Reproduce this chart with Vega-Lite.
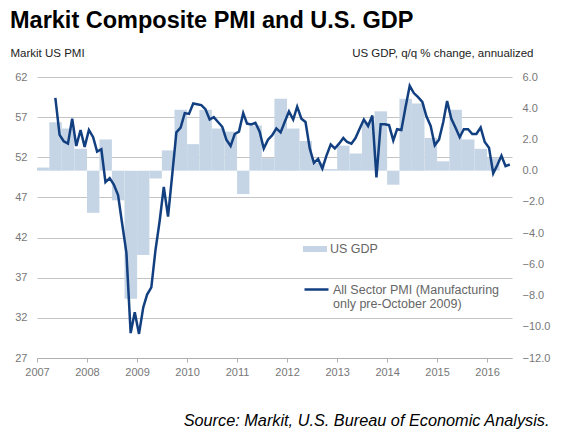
{
  "$schema": "https://vega.github.io/schema/vega-lite/v6.json",
  "width": 475,
  "height": 281,
  "autosize": {"type": "none"},
  "padding": {"left": 37, "top": 77, "right": 49, "bottom": 82},
  "background": "white",
  "title": {
    "text": "Markit Composite PMI and U.S. GDP",
    "anchor": "start",
    "frame": "group",
    "font": "Liberation Sans",
    "fontSize": 23.5,
    "fontWeight": "bold",
    "color": "#000000",
    "baseline": "alphabetic",
    "offset": -4,
    "dx": -27
  },
  "config": {
    "view": {"stroke": null},
    "font": "Liberation Sans",
    "axis": {"labelFont": "Liberation Sans", "titleFont": "Liberation Sans"},
    "legend": {"labelFont": "Liberation Sans"}
  },
  "datasets": {
    "gdp": [
      {"start": "2007-01-01", "end": "2007-04-01", "gdp": 0.2},
      {"start": "2007-04-01", "end": "2007-07-01", "gdp": 3.1},
      {"start": "2007-07-01", "end": "2007-10-01", "gdp": 2.7},
      {"start": "2007-10-01", "end": "2008-01-01", "gdp": 1.4},
      {"start": "2008-01-01", "end": "2008-04-01", "gdp": -2.7},
      {"start": "2008-04-01", "end": "2008-07-01", "gdp": 2.0},
      {"start": "2008-07-01", "end": "2008-10-01", "gdp": -1.9},
      {"start": "2008-10-01", "end": "2009-01-01", "gdp": -8.2},
      {"start": "2009-01-01", "end": "2009-04-01", "gdp": -5.4},
      {"start": "2009-04-01", "end": "2009-07-01", "gdp": -0.5},
      {"start": "2009-07-01", "end": "2009-10-01", "gdp": 1.3},
      {"start": "2009-10-01", "end": "2010-01-01", "gdp": 3.9},
      {"start": "2010-01-01", "end": "2010-04-01", "gdp": 1.7},
      {"start": "2010-04-01", "end": "2010-07-01", "gdp": 3.9},
      {"start": "2010-07-01", "end": "2010-10-01", "gdp": 2.7},
      {"start": "2010-10-01", "end": "2011-01-01", "gdp": 2.5},
      {"start": "2011-01-01", "end": "2011-04-01", "gdp": -1.5},
      {"start": "2011-04-01", "end": "2011-07-01", "gdp": 2.9},
      {"start": "2011-07-01", "end": "2011-10-01", "gdp": 0.8},
      {"start": "2011-10-01", "end": "2012-01-01", "gdp": 4.6},
      {"start": "2012-01-01", "end": "2012-04-01", "gdp": 2.7},
      {"start": "2012-04-01", "end": "2012-07-01", "gdp": 1.9},
      {"start": "2012-07-01", "end": "2012-10-01", "gdp": 0.5},
      {"start": "2012-10-01", "end": "2013-01-01", "gdp": 0.1},
      {"start": "2013-01-01", "end": "2013-04-01", "gdp": 1.6},
      {"start": "2013-04-01", "end": "2013-07-01", "gdp": 1.1},
      {"start": "2013-07-01", "end": "2013-10-01", "gdp": 3.1},
      {"start": "2013-10-01", "end": "2014-01-01", "gdp": 3.8},
      {"start": "2014-01-01", "end": "2014-04-01", "gdp": -0.9},
      {"start": "2014-04-01", "end": "2014-07-01", "gdp": 4.6},
      {"start": "2014-07-01", "end": "2014-10-01", "gdp": 4.3},
      {"start": "2014-10-01", "end": "2015-01-01", "gdp": 2.1},
      {"start": "2015-01-01", "end": "2015-04-01", "gdp": 0.6},
      {"start": "2015-04-01", "end": "2015-07-01", "gdp": 3.9},
      {"start": "2015-07-01", "end": "2015-10-01", "gdp": 2.0},
      {"start": "2015-10-01", "end": "2016-01-01", "gdp": 1.4},
      {"start": "2016-01-01", "end": "2016-04-01", "gdp": 0.8}
    ],
    "pmi": [
      {"date": "2007-05-15", "pmi": 59.4}, {"date": "2007-06-15", "pmi": 54.8}, {"date": "2007-07-15", "pmi": 54.0}, {"date": "2007-08-15", "pmi": 53.7},
      {"date": "2007-09-15", "pmi": 56.8}, {"date": "2007-10-15", "pmi": 53.4}, {"date": "2007-11-15", "pmi": 55.4}, {"date": "2007-12-15", "pmi": 53.3},
      {"date": "2008-01-15", "pmi": 55.4}, {"date": "2008-02-15", "pmi": 54.5}, {"date": "2008-03-15", "pmi": 52.7}, {"date": "2008-04-15", "pmi": 53.0},
      {"date": "2008-05-15", "pmi": 48.9}, {"date": "2008-06-15", "pmi": 49.4}, {"date": "2008-07-15", "pmi": 48.6}, {"date": "2008-08-15", "pmi": 47.3},
      {"date": "2008-09-15", "pmi": 43.6}, {"date": "2008-10-15", "pmi": 40.1}, {"date": "2008-11-15", "pmi": 30.1}, {"date": "2008-12-15", "pmi": 32.7},
      {"date": "2009-01-15", "pmi": 30.0}, {"date": "2009-02-15", "pmi": 33.3}, {"date": "2009-03-15", "pmi": 34.9}, {"date": "2009-04-15", "pmi": 35.8},
      {"date": "2009-05-15", "pmi": 40.4}, {"date": "2009-06-15", "pmi": 44.1}, {"date": "2009-07-15", "pmi": 48.3}, {"date": "2009-08-15", "pmi": 44.6},
      {"date": "2009-09-15", "pmi": 49.9}, {"date": "2009-10-15", "pmi": 55.1}, {"date": "2009-11-15", "pmi": 55.7}, {"date": "2009-12-15", "pmi": 57.5},
      {"date": "2010-01-15", "pmi": 57.4}, {"date": "2010-02-15", "pmi": 58.7}, {"date": "2010-03-15", "pmi": 58.6}, {"date": "2010-04-15", "pmi": 58.5},
      {"date": "2010-05-15", "pmi": 58.0}, {"date": "2010-06-15", "pmi": 56.7}, {"date": "2010-07-15", "pmi": 57.0}, {"date": "2010-08-15", "pmi": 56.4},
      {"date": "2010-09-15", "pmi": 55.8}, {"date": "2010-10-15", "pmi": 54.2}, {"date": "2010-11-15", "pmi": 53.4}, {"date": "2010-12-15", "pmi": 54.9},
      {"date": "2011-01-15", "pmi": 55.2}, {"date": "2011-02-15", "pmi": 57.5}, {"date": "2011-03-15", "pmi": 56.2}, {"date": "2011-04-15", "pmi": 56.1},
      {"date": "2011-05-15", "pmi": 56.3}, {"date": "2011-06-15", "pmi": 55.2}, {"date": "2011-07-15", "pmi": 53.1}, {"date": "2011-08-15", "pmi": 54.2},
      {"date": "2011-09-15", "pmi": 54.75}, {"date": "2011-10-15", "pmi": 55.6}, {"date": "2011-11-15", "pmi": 55.1}, {"date": "2011-12-15", "pmi": 56.4},
      {"date": "2012-01-15", "pmi": 57.7}, {"date": "2012-02-15", "pmi": 56.7}, {"date": "2012-03-15", "pmi": 58.3}, {"date": "2012-04-15", "pmi": 56.8},
      {"date": "2012-05-15", "pmi": 56.4}, {"date": "2012-06-15", "pmi": 53.1}, {"date": "2012-07-15", "pmi": 51.3}, {"date": "2012-08-15", "pmi": 51.8},
      {"date": "2012-09-15", "pmi": 50.6}, {"date": "2012-10-15", "pmi": 52.2}, {"date": "2012-11-15", "pmi": 53.6}, {"date": "2012-12-15", "pmi": 53.1},
      {"date": "2013-01-15", "pmi": 53.7}, {"date": "2013-02-15", "pmi": 54.4}, {"date": "2013-03-15", "pmi": 53.9}, {"date": "2013-04-15", "pmi": 53.7},
      {"date": "2013-05-15", "pmi": 54.4}, {"date": "2013-06-15", "pmi": 55.6}, {"date": "2013-07-15", "pmi": 56.7}, {"date": "2013-08-15", "pmi": 55.9},
      {"date": "2013-09-15", "pmi": 57.2}, {"date": "2013-10-15", "pmi": 49.5}, {"date": "2013-11-15", "pmi": 56.1}, {"date": "2013-12-15", "pmi": 56.1},
      {"date": "2014-01-15", "pmi": 56.0}, {"date": "2014-02-15", "pmi": 54.1}, {"date": "2014-03-15", "pmi": 55.5}, {"date": "2014-04-15", "pmi": 55.4},
      {"date": "2014-05-15", "pmi": 58.2}, {"date": "2014-06-15", "pmi": 60.9}, {"date": "2014-07-15", "pmi": 60.0}, {"date": "2014-08-15", "pmi": 59.5},
      {"date": "2014-09-15", "pmi": 58.9}, {"date": "2014-10-15", "pmi": 57.1}, {"date": "2014-11-15", "pmi": 55.9}, {"date": "2014-12-15", "pmi": 53.5},
      {"date": "2015-01-15", "pmi": 54.2}, {"date": "2015-02-15", "pmi": 56.4}, {"date": "2015-03-15", "pmi": 59.0}, {"date": "2015-04-15", "pmi": 56.8},
      {"date": "2015-05-15", "pmi": 55.7}, {"date": "2015-06-15", "pmi": 54.5}, {"date": "2015-07-15", "pmi": 55.5}, {"date": "2015-08-15", "pmi": 55.5},
      {"date": "2015-09-15", "pmi": 54.9}, {"date": "2015-10-15", "pmi": 54.9}, {"date": "2015-11-15", "pmi": 55.7}, {"date": "2015-12-15", "pmi": 53.9},
      {"date": "2016-01-15", "pmi": 53.2}, {"date": "2016-02-15", "pmi": 50.0}, {"date": "2016-03-15", "pmi": 51.0}, {"date": "2016-04-15", "pmi": 52.2},
      {"date": "2016-05-15", "pmi": 50.9}, {"date": "2016-06-15", "pmi": 51.1}
    ]
  },
  "layer": [
    {
      "data": {"name": "gdp"},
      "mark": {"type": "bar"},
      "encoding": {
        "x": {
          "field": "start",
          "type": "temporal",
          "scale": {"type": "utc", "domain": [{"year": 2007, "month": 1, "date": 1, "utc": true}, {"year": 2016, "month": 7, "date": 1, "utc": true}]},
          "axis": {
            "orient": "bottom",
            "values": [
              {"year": 2007, "month": 1, "date": 1, "utc": true}, {"year": 2008, "month": 1, "date": 1, "utc": true},
              {"year": 2009, "month": 1, "date": 1, "utc": true}, {"year": 2010, "month": 1, "date": 1, "utc": true},
              {"year": 2011, "month": 1, "date": 1, "utc": true}, {"year": 2012, "month": 1, "date": 1, "utc": true},
              {"year": 2013, "month": 1, "date": 1, "utc": true}, {"year": 2014, "month": 1, "date": 1, "utc": true},
              {"year": 2015, "month": 1, "date": 1, "utc": true}, {"year": 2016, "month": 1, "date": 1, "utc": true}
            ],
            "format": "%Y",
            "formatType": "utc",
            "grid": false,
            "domain": true,
            "domainColor": "#b0b0b0",
            "ticks": true,
            "tickColor": "#b0b0b0",
            "tickSize": 4,
            "labelPadding": 4,
            "labelColor": "#777777",
            "labelFontSize": 11,
            "labelFlush": false,
            "labelOverlap": false,
            "title": "Source: Markit, U.S. Bureau of Economic Analysis.",
            "titleFontStyle": "italic",
            "titleFontWeight": "normal",
            "titleFontSize": 16.3,
            "titleColor": "#000000",
            "titleX": 512,
            "titleY": 67,
            "titleAlign": "right",
            "titleAnchor": null,
            "titleBaseline": "alphabetic"
          }
        },
        "x2": {"field": "end"},
        "y": {
          "field": "gdp",
          "type": "quantitative",
          "scale": {"domain": [-12, 6], "nice": false, "zero": false},
          "axis": {
            "orient": "right",
            "values": [-12, -10, -8, -6, -4, -2, 0, 2, 4, 6],
            "format": ".1f",
            "grid": false,
            "domain": false,
            "ticks": false,
            "labelPadding": 10,
            "labelColor": "#777777",
            "labelFontSize": 11,
            "title": "US GDP, q/q % change, annualized",
            "titleAngle": 0,
            "titleX": 21,
            "titleY": -21,
            "titleAlign": "right",
            "titleBaseline": "alphabetic",
            "titleFontWeight": "normal",
            "titleFontSize": 11.5,
            "titleColor": "#222222"
          }
        },
        "y2": {"datum": 0},
        "fill": {
          "datum": "US GDP",
          "scale": {"range": ["#c6d5e5"]},
          "legend": {
            "orient": "none",
            "legendX": 266,
            "legendY": 160,
            "title": null,
            "padding": 0,
            "symbolType": "M-1,-0.25H1V0.25H-1Z",
            "symbolSize": 576,
            "symbolStrokeWidth": 0,
            "labelOffset": 3,
            "labelFontSize": 12.5,
            "labelColor": "#666666"
          }
        }
      }
    },
    {
      "data": {"name": "pmi"},
      "mark": {"type": "line", "strokeWidth": 2.5},
      "encoding": {
        "x": {"field": "date", "type": "temporal"},
        "y": {
          "field": "pmi",
          "type": "quantitative",
          "scale": {"domain": [27, 62], "nice": false, "zero": false},
          "axis": {
            "orient": "left",
            "values": [27, 32, 37, 42, 47, 52, 57, 62],
            "grid": true,
            "gridColor": "#c4c4c4",
            "gridWidth": 1,
            "domain": false,
            "ticks": false,
            "labelPadding": 10,
            "labelColor": "#777777",
            "labelFontSize": 11,
            "title": "Markit US  PMI",
            "titleAngle": 0,
            "titleX": -27,
            "titleY": -21,
            "titleAlign": "left",
            "titleBaseline": "alphabetic",
            "titleFontWeight": "normal",
            "titleFontSize": 11.5,
            "titleColor": "#222222"
          }
        },
        "stroke": {
          "datum": "All Sector PMI",
          "scale": {"range": ["#123f80"]},
          "legend": {
            "orient": "none",
            "legendX": 266,
            "legendY": 199,
            "title": null,
            "padding": 0,
            "symbolType": "stroke",
            "symbolSize": 576,
            "symbolStrokeWidth": 2.5,
            "labelOffset": 3,
            "labelFontSize": 12.5,
            "labelLimit": 400,
            "labelColor": "#666666",
            "labelExpr": "['All Sector PMI (Manufacturing', 'only pre-October 2009)']"
          }
        }
      }
    }
  ],
  "resolve": {"scale": {"y": "independent"}}
}
